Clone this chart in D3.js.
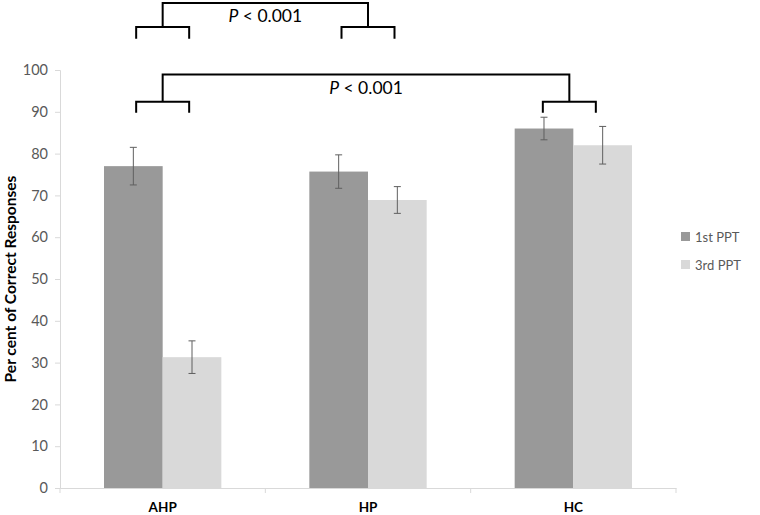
<!DOCTYPE html>
<html>
<head>
<meta charset="utf-8">
<script src="https://cdn.jsdelivr.net/npm/d3@7"></script>
<style>
  html, body { margin: 0; padding: 0; background: #fff; }
  svg { display: block; }
  text { font-family: Lato, "Open Sans", sans-serif; }
</style>
</head>
<body>
<svg id="chart" width="760" height="515"></svg>
<script>
const categories = ["AHP", "HP", "HC"];
const seriesNames = ["1st PPT", "3rd PPT"];
const firstPPT = [77.0, 75.7, 86.0];
const thirdPPT = [31.3, 68.9, 82.0];
const firstErr = [4.5, 4.0, 2.7];
const thirdErr = [3.9, 3.2, 4.5];
const yTicks = [0, 10, 20, 30, 40, 50, 60, 70, 80, 90, 100];
const seriesColors = ["#999999", "#d9d9d9"];
// significance brackets
const brackets = [
  { a: "AHP", b: "HP", top: 116, sub: 110.3, leg: 107.5, label: "P < 0.001", labelY: 111.4 },
  { a: "AHP", b: "HC", top: 98.9, sub: 92.4, leg: 89.8, label: "P < 0.001", labelY: 94.2 }
];

const svg = d3.select("#chart");
const mLeft = 60, mRight = 676, mTop = 70, mBottom = 488;

const x = d3.scaleBand().domain(categories).range([mLeft, mRight]);
const y = d3.scaleLinear().domain([0, 100]).range([mBottom, mTop]);
const inner = d3.scaleBand().domain(seriesNames).range([0, x.bandwidth()]).paddingInner(0).paddingOuter(0.75);

// axes
const yAxis = d3.axisLeft(y).tickValues(yTicks).tickSize(5).tickPadding(7);
const gy = svg.append("g").attr("transform", `translate(${mLeft},0)`).call(yAxis);
gy.select(".domain").attr("stroke", "#d9d9d9");
gy.selectAll(".tick line").attr("stroke", "#d9d9d9");
gy.selectAll(".tick text").attr("fill", "#595959").style("font-size", "14.5px");

const xAxis = d3.axisBottom(x).tickSize(0).tickPadding(14).tickSizeOuter(0);
const gx = svg.append("g").attr("transform", `translate(0,${mBottom})`).call(xAxis);
gx.select(".domain").attr("stroke", "#d9d9d9");
gx.selectAll(".tick text").attr("fill", "#000").style("font-size", "13.5px").style("font-weight", "bold");
// category boundary ticks
const bounds = categories.map(c => x(c)).concat([x(categories[categories.length - 1]) + x.bandwidth()]);
svg.append("g").selectAll("line").data(bounds).join("line")
  .attr("x1", d => d).attr("x2", d => d)
  .attr("y1", mBottom).attr("y2", mBottom + 5)
  .attr("stroke", "#d9d9d9");

// bars
const data = categories.map((c, i) => ({
  cat: c,
  vals: [
    { s: seriesNames[0], v: firstPPT[i], e: firstErr[i], col: seriesColors[0] },
    { s: seriesNames[1], v: thirdPPT[i], e: thirdErr[i], col: seriesColors[1] }
  ]
}));
const groups = svg.append("g").selectAll("g").data(data).join("g")
  .attr("transform", d => `translate(${x(d.cat)},0)`);
groups.selectAll("rect").data(d => d.vals).join("rect")
  .attr("x", d => inner(d.s)).attr("width", inner.bandwidth())
  .attr("y", d => y(d.v)).attr("height", d => y(0) - y(d.v))
  .attr("fill", d => d.col);
// error bars
const eb = groups.selectAll("g.err").data(d => d.vals).join("g").attr("class", "err")
  .attr("stroke", "#5f5f5f").attr("stroke-width", 1);
const cx = d => inner(d.s) + inner.bandwidth() / 2;
eb.append("line")
  .attr("x1", cx).attr("x2", cx)
  .attr("y1", d => y(d.v + d.e)).attr("y2", d => y(d.v - d.e));
eb.append("line")
  .attr("x1", d => cx(d) - 3.5).attr("x2", d => cx(d) + 3.5)
  .attr("y1", d => y(d.v + d.e)).attr("y2", d => y(d.v + d.e));
eb.append("line")
  .attr("x1", d => cx(d) - 3.5).attr("x2", d => cx(d) + 3.5)
  .attr("y1", d => y(d.v - d.e)).attr("y2", d => y(d.v - d.e));

// significance brackets
const half = 26.5;
const bg = svg.append("g").attr("fill", "none").attr("stroke", "#000").attr("stroke-width", 2);
brackets.forEach(b => {
  const xa = x(b.a) + x.bandwidth() / 2, xb = x(b.b) + x.bandwidth() / 2 - (b.b === "HC" ? 4 : 0);
  const path = d3.path();
  path.moveTo(xa, y(b.sub)); path.lineTo(xa, y(b.top)); path.lineTo(xb, y(b.top)); path.lineTo(xb, y(b.sub));
  [xa, xb].forEach(c => {
    path.moveTo(c - half, y(b.leg)); path.lineTo(c - half, y(b.sub));
    path.lineTo(c + half, y(b.sub)); path.lineTo(c + half, y(b.leg));
  });
  bg.append("path").attr("d", path.toString());
  const t = svg.append("text").attr("x", (xa + xb) / 2).attr("y", y(b.labelY))
    .attr("text-anchor", "middle").style("font-size", "17.5px").attr("fill", "#000");
  const parts = b.label.split(" ");
  t.append("tspan").attr("font-style", "italic").text(parts[0]);
  t.append("tspan").text(" " + parts.slice(1).join(" "));
});

// y axis title
svg.append("text")
  .attr("transform", `translate(16,${(mTop + mBottom) / 2}) rotate(-90)`)
  .attr("text-anchor", "middle")
  .style("font-size", "15.5px").style("font-weight", "bold").attr("fill", "#000")
  .text("Per cent of Correct Responses");

// legend
const lg = svg.append("g").attr("transform", "translate(681,237)");
seriesNames.forEach((s, i) => {
  const g = lg.append("g").attr("transform", `translate(0,${i * 28})`);
  g.append("rect").attr("x", 0).attr("y", -5).attr("width", 9).attr("height", 9).attr("fill", seriesColors[i]);
  g.append("text").attr("x", 14).attr("y", 4.5).style("font-size", "13px").attr("fill", "#595959").text(s);
});
</script>
</body>
</html>
